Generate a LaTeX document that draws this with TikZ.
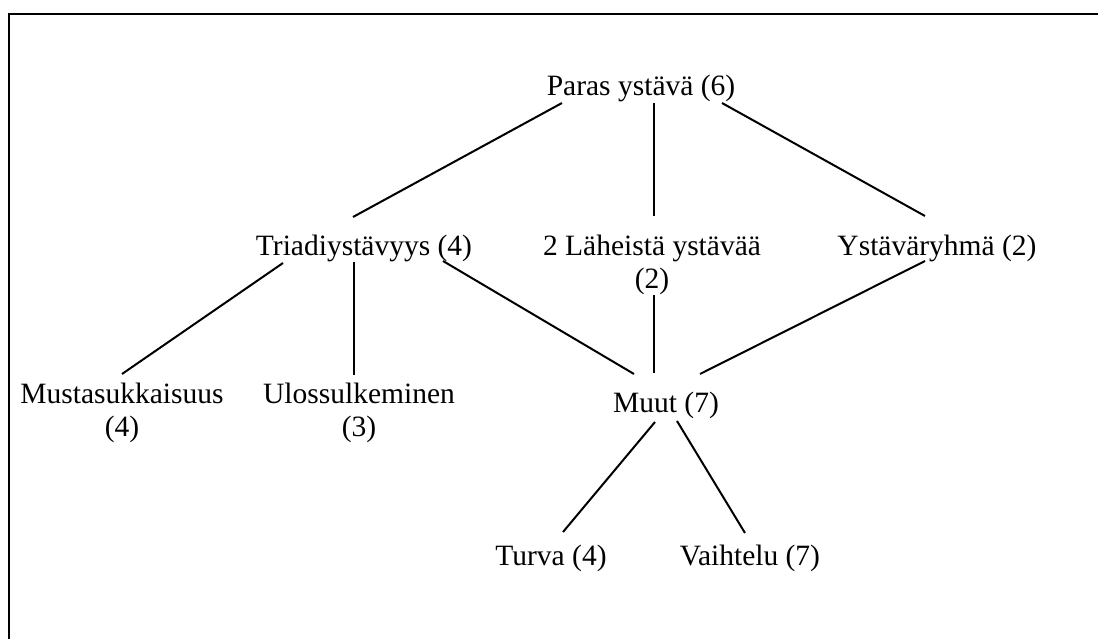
\documentclass[tikz,border=0pt]{standalone}
\usepackage{fontspec}
\setmainfont{Liberation Serif}
\begin{document}
\begin{tikzpicture}[x=1pt,y=-1pt,
  lbl/.style={inner sep=0pt, anchor=base, align=center, font=\fontsize{29.5}{33}\selectfont},
  edge/.style={line width=2pt}]
\useasboundingbox (0,0) rectangle (1098,639);
\draw[line width=2.5pt] (9,639) -- (9,14) -- (1098,14);

\node[lbl] (paras)  at (641,96)  {Paras ystävä (6)};
\node[lbl] (triadi) at (364,255) {Triadiystävyys (4)};
\node[lbl] (lah)    at (652,288) {2 Läheistä ystävää\\(2)};
\node[lbl] (ryhma)  at (937,255) {Ystäväryhmä (2)};
\node[lbl] (musta)  at (122,436) {Mustasukkaisuus\\(4)};
\node[lbl] (ulos)   at (359,436) {Ulossulkeminen\\(3)};
\node[lbl] (muut)   at (666,412) {Muut (7)};
\node[lbl] (turva)  at (551,565) {Turva (4)};
\node[lbl] (vaiht)  at (750,565) {Vaihtelu (7)};

\draw[edge] ([shift={(-79,7)}]paras.base) -- ([shift={(-11,-38)}]triadi.base);
\draw[edge] ([shift={(13,7)}]paras.base) -- ([shift={(2,-72)}]lah.base);
\draw[edge] ([shift={(81,7)}]paras.base) -- ([shift={(-12,-39)}]ryhma.base);
\draw[edge] ([shift={(-81,8)}]triadi.base) -- ([shift={(0,-62)}]musta.base);
\draw[edge] ([shift={(-10,7)}]triadi.base) -- ([shift={(-5,-61)}]ulos.base);
\draw[edge] ([shift={(79,6)}]triadi.base) -- ([shift={(-32,-38)}]muut.base);
\draw[edge] ([shift={(2,7)}]lah.base) -- ([shift={(-12,-39)}]muut.base);
\draw[edge] ([shift={(-12,6)}]ryhma.base) -- ([shift={(34,-38)}]muut.base);
\draw[edge] ([shift={(-11,10)}]muut.base) -- ([shift={(12,-33)}]turva.base);
\draw[edge] ([shift={(11,9)}]muut.base) -- ([shift={(-5,-32)}]vaiht.base);
\end{tikzpicture}
\end{document}
